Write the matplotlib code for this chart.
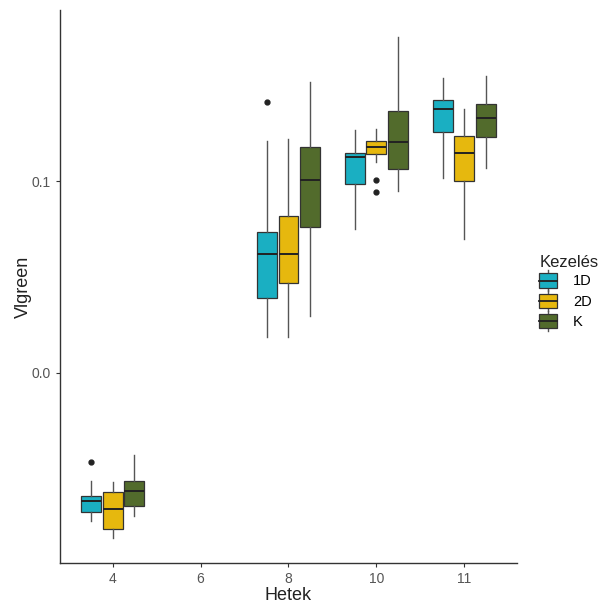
import matplotlib.pyplot as plt
import matplotlib.patches as mpatches
import matplotlib.lines as mlines
from matplotlib.legend_handler import HandlerBase

plt.rcParams['font.family'] = ['Liberation Sans', 'DejaVu Sans']

# heti mérések, kezelésenkénti boxplot statisztikák
hetek = ['4', '6', '8', '10', '11']
kezeles = ['1D', '2D', 'K']
szinek = {'1D': '#1AAFC2', '2D': '#E6B80E', 'K': '#526B2C'}

# [alsó bajusz, Q1, medián, Q3, felső bajusz] hetenként (None = nincs adat)
stat_1D = [[-0.0771, -0.0724, -0.0667, -0.0641, -0.0561], None,
           [0.0189, 0.0392, 0.0618, 0.0733, 0.1208],
           [0.0750, 0.0983, 0.1125, 0.1144, 0.1266],
           [0.1017, 0.1255, 0.1373, 0.1422, 0.1535]]
stat_2D = [[-0.0861, -0.0814, -0.0710, -0.0621, -0.0568], None,
           [0.0189, 0.0470, 0.0621, 0.0818, 0.1219],
           [0.1097, 0.1142, 0.1177, 0.1208, 0.1269],
           [0.0696, 0.1002, 0.1147, 0.1236, 0.1375]]
stat_K = [[-0.0745, -0.0693, -0.0615, -0.0563, -0.0427], None,
          [0.0297, 0.0760, 0.1003, 0.1175, 0.1517],
          [0.0950, 0.1061, 0.1202, 0.1366, 0.1752],
          [0.1066, 0.1231, 0.1328, 0.1399, 0.1547]]
kiugro_1D = [[-0.0464], [], [0.1410], [], []]
kiugro_2D = [[], [], [], [0.1007, 0.0944], []]
kiugro_K = [[], [], [], [], []]

statok = {'1D': stat_1D, '2D': stat_2D, 'K': stat_K}
kiugrok = {'1D': kiugro_1D, '2D': kiugro_2D, 'K': kiugro_K}

fig = plt.figure(figsize=(5.98, 6.04), dpi=100)
ax = fig.add_axes([0.1003, 0.0679, 0.7642, 0.9155])

eltolas = {'1D': -0.245, '2D': 0.0, 'K': 0.245}
for k in kezeles:
    stats, pos = [], []
    for i, s in enumerate(statok[k]):
        if s is None:
            continue
        stats.append(dict(whislo=s[0], q1=s[1], med=s[2], q3=s[3],
                          whishi=s[4], fliers=kiugrok[k][i]))
        pos.append(i + 1 + eltolas[k])
    ax.bxp(stats, positions=pos, widths=0.225, patch_artist=True,
           showcaps=False,
           boxprops=dict(facecolor=szinek[k], edgecolor='#333333', linewidth=0.9),
           medianprops=dict(color='#222222', linewidth=1.4),
           whiskerprops=dict(color='#555555', linewidth=1.0),
           flierprops=dict(marker='o', markersize=3.5, markerfacecolor='#222222',
                           markeredgecolor='#222222'))

ax.set_xlim(0.4, 5.6)
ax.set_ylim(-0.0990, 0.1891)
ax.set_xticks(range(1, 6))
ax.set_xticklabels(hetek)
ax.set_yticks([0.0, 0.1])
ax.set_yticklabels(['0.0', '0.1'])
ax.tick_params(colors='#333333', labelcolor='#555555', labelsize=10,
               length=3, width=0.8)
for side in ['top', 'right']:
    ax.spines[side].set_visible(False)
for side in ['left', 'bottom']:
    ax.spines[side].set_color('#333333')
    ax.spines[side].set_linewidth(1.0)
ax.set_xlabel('Hetek', fontsize=13, color='#222222', labelpad=1)
ax.set_ylabel('Vlgreen', fontsize=13, color='#222222', labelpad=0)


class BoxKulcs(HandlerBase):
    def create_artists(self, legend, orig, xd, yd, w, h, fontsize, trans):
        x0, y0 = -xd, -yd
        cx = x0 + w / 2
        vonal1 = mlines.Line2D([cx, cx], [y0 - 0.05 * h, y0 + 0.12 * h],
                               color='#555555', lw=1.0, transform=trans)
        vonal2 = mlines.Line2D([cx, cx], [y0 + 0.88 * h, y0 + 1.05 * h],
                               color='#555555', lw=1.0, transform=trans)
        doboz = mpatches.Rectangle((x0, y0 + 0.12 * h), w, 0.76 * h,
                                   facecolor=orig.get_facecolor(),
                                   edgecolor='#333333', lw=0.9, transform=trans)
        med = mlines.Line2D([x0, x0 + w], [y0 + 0.5 * h] * 2,
                            color='#222222', lw=1.3, transform=trans)
        return [vonal1, vonal2, doboz, med]


handles = [mpatches.Patch(facecolor=szinek[k]) for k in kezeles]
leg = fig.legend(handles, kezeles, handler_map={mpatches.Patch: BoxKulcs()},
                 loc='upper left', bbox_to_anchor=(0.88, 0.6),
                 title='Kezelés', title_fontsize=12, fontsize=10.5,
                 frameon=False, handlelength=1.2, handleheight=1.6,
                 handletextpad=1.1, labelspacing=0.1, alignment='left')
leg.get_title().set_color('#222222')

fig.savefig('out.png', dpi=100)
